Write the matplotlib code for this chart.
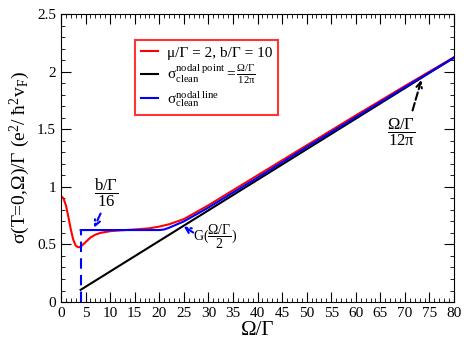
import matplotlib
matplotlib.use("Agg")
import matplotlib.pyplot as plt
import numpy as np

plt.rcParams["font.family"] = ["Liberation Serif", "DejaVu Serif"]
plt.rcParams["mathtext.fontset"] = "stix"
plt.rcParams["mathtext.default"] = "regular"

# red curve: mu/Gamma = 2, b/Gamma = 10
omega_red = [0, 0.5, 1, 1.5, 2, 2.5, 3, 3.5, 4, 5, 6, 7, 8, 10, 12, 15, 18, 20,
             22, 25, 30, 35, 40, 50, 60, 70, 80]
sigma_red = [0.92, 0.90, 0.84, 0.74, 0.63, 0.54, 0.49, 0.475, 0.48, 0.52, 0.56,
             0.585, 0.60, 0.615, 0.622, 0.63, 0.64, 0.655, 0.675, 0.72, 0.84,
             0.97, 1.10, 1.36, 1.62, 1.875, 2.125]

# blue curve: nodal line, clean
omega_blue = [4, 8, 12, 16, 20, 21, 22, 25, 30, 35, 40, 50, 60, 70, 80]
sigma_blue = [0.625, 0.625, 0.625, 0.625, 0.625, 0.63, 0.645, 0.70, 0.82, 0.95,
              1.08, 1.345, 1.605, 1.865, 2.12]
omega_step = [4, 4]
sigma_step = [0.0, 0.625]

# black line: nodal point, clean = Omega/(12 pi)
omega_black = [4, 80]
sigma_black = [4 / (12 * np.pi), 80 / (12 * np.pi)]

fig = plt.figure(figsize=(4.71, 3.46), dpi=100)
ax = fig.add_axes([0.1295, 0.127, 0.8345, 0.8325])

ax.plot(omega_red, sigma_red, color="red", lw=1.5,
        label="μ/Γ = 2, b/Γ = 10")
ax.plot(omega_black, sigma_black, color="black", lw=1.5,
        label=r"$\sigma_{clean}^{nodal\ point} = \frac{\Omega/\Gamma}{12\pi}$")
ax.plot(omega_blue, sigma_blue, color="blue", lw=1.5,
        label=r"$\sigma_{clean}^{nodal\ line}$")
ax.plot(omega_step, sigma_step, color="blue", lw=1.5, ls=(0, (5, 3)))

# annotations
ax.annotate("", xy=(6.5, 0.625), xytext=(8.3, 0.79),
            arrowprops=dict(arrowstyle="->", color="blue", ls="--", lw=1.5))
ax.text(9.2, 0.95, r"$\dfrac{b/\Gamma}{16}$", fontsize=12,
        ha="center", va="center")

ax.annotate("", xy=(24.5, 0.67), xytext=(27.4, 0.59),
            arrowprops=dict(arrowstyle="->", color="blue", ls="--", lw=1.5))
ax.text(26.8, 0.57, r"$G(\dfrac{\Omega/\Gamma}{2})$", fontsize=10,
        ha="left", va="center")

ax.annotate("", xy=(73.5, 1.95), xytext=(71.4, 1.64),
            arrowprops=dict(arrowstyle="->", color="black", ls="--", lw=1.5))
ax.text(69.3, 1.47, r"$\dfrac{\Omega/\Gamma}{12\pi}$", fontsize=12,
        ha="center", va="center")

ax.set_xlim(0, 80)
ax.set_ylim(0, 2.5)
ax.set_xticks(np.arange(0, 81, 5))
ax.set_xticks(np.arange(0, 81, 1), minor=True)
ax.set_yticks([0, 0.5, 1, 1.5, 2, 2.5])
ax.set_yticklabels(["0", "0.5", "1", "1.5", "2", "2.5"])
ax.set_yticks(np.arange(0, 2.51, 0.1), minor=True)
ax.tick_params(which="both", direction="in", top=True, right=True,
               labelsize=11)
ax.tick_params(which="major", length=7)
ax.tick_params(which="minor", length=3)

ax.set_xlabel("Ω/Γ", fontsize=15, labelpad=1)
ax.set_ylabel(r"σ(T=0,Ω)/Γ (e$^2$/ ħ$^2$v$_F$)", fontsize=14, labelpad=4)

leg = ax.legend(loc="upper left", bbox_to_anchor=(0.188, 0.91),
                borderaxespad=0, fancybox=False, fontsize=11,
                handlelength=1.1, borderpad=0.4, labelspacing=0.2,
                handletextpad=0.6)
leg.get_frame().set_edgecolor("red")
leg.get_frame().set_linewidth(1.5)

fig.savefig("out.png", dpi=100)
